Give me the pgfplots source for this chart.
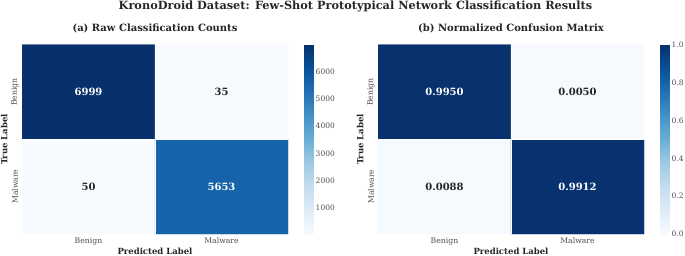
\documentclass[border=0pt]{standalone}
\usepackage{fontspec}
\setmainfont{DejaVu Serif}
\usepackage{pgfplots}
\pgfplotsset{compat=1.18}
\definecolor{ticktxt}{HTML}{4D4D4D}
\definecolor{celltxt}{HTML}{262626}
\definecolor{titletxt}{HTML}{262626}
\pgfplotsset{
  /pgf/number format/assume math mode=true,
  colormap={blues}{rgb255=(247,251,255) rgb255=(222,235,247) rgb255=(198,219,239) rgb255=(158,202,225) rgb255=(107,174,214) rgb255=(66,146,198) rgb255=(33,113,181) rgb255=(8,81,156) rgb255=(8,48,107)},
  hm/.style={
    scale only axis, width=266pt, height=189.3pt,
    xmin=-0.5, xmax=1.5, ymin=-0.5, ymax=1.5, y dir=reverse,
    xtick={0,1}, ytick={0,1},
    xticklabels={Benign,Malware}, yticklabels={Benign,Malware},
    major tick length=0pt,
    axis line style={draw=none},
    tick label style={font=\fontsize{7.7}{9}\selectfont, text=ticktxt},
    xticklabel style={anchor=base, yshift=-9.5pt},
    yticklabel style={xshift=-7pt, rotate=90, anchor=center},
    xlabel={Predicted Label}, ylabel={True Label},
    label style={font=\bfseries\fontsize{8.5}{10}\selectfont, text=titletxt},
    xlabel style={at={(axis description cs:0.5,0)}, anchor=base, yshift=-20pt},
    ylabel style={at={(axis description cs:-0.0665,0.5)}, anchor=center},
    title style={font=\bfseries\fontsize{10}{12}\selectfont, text=titletxt, at={(axis description cs:0.5,1)}, anchor=base, yshift=7pt},
    axis on top,
    extra x ticks={0.5}, extra y ticks={0.5},
    extra x tick labels={}, extra y tick labels={},
    extra tick style={grid=major, major grid style={white, line width=0.8pt}},
    colormap name=blues,
    colorbar,
    colorbar style={
      at={(parent axis.north east)}, anchor=north west, xshift=8pt,
      scale only axis, width=9pt, height=189.3pt,
      axis line style={draw=none}, major tick length=0pt,
      yticklabel style={font=\fontsize{7.5}{9}\selectfont, text=ticktxt, anchor=west, xshift=1.5pt, inner sep=0.5pt},
    },
  },
  cell/.style 2 args={only marks, mark=text, text mark={#1}, text mark as node=true,
    text mark style={font=\bfseries\fontsize{10}{12}\selectfont, anchor=center, inner sep=0pt, text=#2},
    color=#2},
}
\begin{document}
\begin{tikzpicture}
\path[use as bounding box] (0pt,0pt) rectangle (685pt,-255pt);
\node[font=\bfseries\fontsize{11.3}{13}\selectfont, text=titletxt, anchor=base] at (355.5pt,-9.3pt)
  {KronoDroid Dataset: Few-Shot Prototypical Network Classification Results};
% (a) raw counts
\begin{axis}[hm, at={(22pt,-234pt)}, anchor=south west,
  title={(a) Raw Classification Counts},
  point meta min=35, point meta max=6999,
  colorbar style={ytick={1000,2000,3000,4000,5000,6000},
    yticklabels={1000,2000,3000,4000,5000,6000}}]
\addplot[matrix plot*, mesh/cols=2, point meta=explicit] table[meta=c] {
x y c
0 0 6999
1 0 35
0 1 50
1 1 5653
};
\addplot[cell={6999}{white}] coordinates {(0,0)};
\addplot[cell={35}{celltxt}] coordinates {(1,0)};
\addplot[cell={50}{celltxt}] coordinates {(0,1)};
\addplot[cell={5653}{white}] coordinates {(1,1)};
\end{axis}
% (b) normalized
\begin{axis}[hm, at={(378pt,-234pt)}, anchor=south west,
  title={(b) Normalized Confusion Matrix},
  point meta min=0, point meta max=1,
  colorbar style={ytick={0,0.2,0.4,0.6,0.8,1},
    yticklabels={0.0,0.2,0.4,0.6,0.8,1.0}}]
\addplot[matrix plot*, mesh/cols=2, point meta=explicit] table[meta=c] {
x y c
0 0 0.9950
1 0 0.0050
0 1 0.0088
1 1 0.9912
};
\addplot[cell={0.9950}{white}] coordinates {(0,0)};
\addplot[cell={0.0050}{celltxt}] coordinates {(1,0)};
\addplot[cell={0.0088}{celltxt}] coordinates {(0,1)};
\addplot[cell={0.9912}{white}] coordinates {(1,1)};
\end{axis}
\end{tikzpicture}
\end{document}
